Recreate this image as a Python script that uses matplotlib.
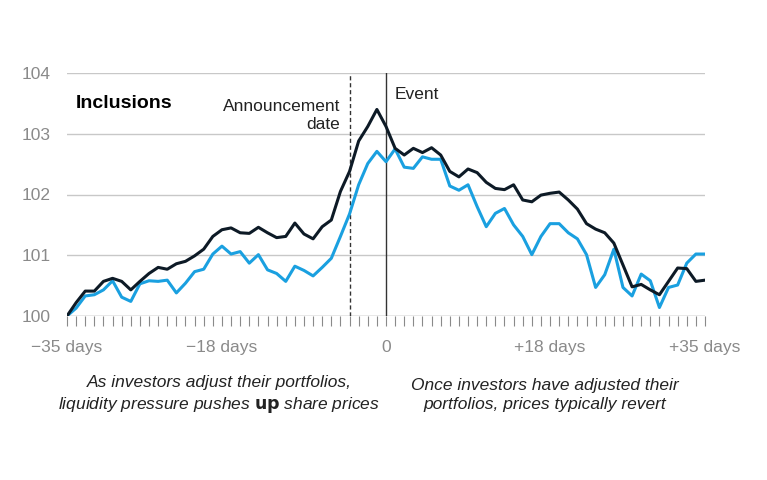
import numpy as np
import matplotlib
matplotlib.use("Agg")
import matplotlib.pyplot as plt

days = np.arange(-35, 36)
index_black = [100, 100.22, 100.41, 100.41, 100.57, 100.62, 100.57, 100.43, 100.57, 100.70,
               100.80, 100.77, 100.86, 100.90, 100.99, 101.10, 101.31, 101.42, 101.45, 101.37,
               101.36, 101.46, 101.37, 101.29, 101.31, 101.53, 101.35, 101.27, 101.47, 101.58,
               102.05, 102.38, 102.88, 103.12, 103.40, 103.12, 102.76, 102.65, 102.76, 102.69,
               102.77, 102.65, 102.38, 102.29, 102.42, 102.36, 102.20, 102.10, 102.08, 102.16,
               101.91, 101.88, 101.99, 102.02, 102.04, 101.91, 101.76, 101.52, 101.43, 101.37,
               101.20, 100.84, 100.48, 100.52, 100.43, 100.35, 100.57, 100.79, 100.78, 100.57,
               100.59]
index_blue = [100, 100.13, 100.33, 100.35, 100.43, 100.58, 100.31, 100.24, 100.53, 100.58,
              100.57, 100.59, 100.38, 100.54, 100.73, 100.77, 101.02, 101.15, 101.02, 101.06,
              100.87, 101.01, 100.76, 100.70, 100.57, 100.82, 100.75, 100.66, 100.80, 100.95,
              101.31, 101.68, 102.16, 102.51, 102.71, 102.54, 102.75, 102.45, 102.43, 102.62,
              102.58, 102.58, 102.14, 102.07, 102.16, 101.80, 101.47, 101.69, 101.77, 101.50,
              101.31, 101.01, 101.31, 101.52, 101.52, 101.37, 101.27, 101.01, 100.47, 100.68,
              101.10, 100.47, 100.33, 100.69, 100.58, 100.14, 100.47, 100.51, 100.87, 101.02,
              101.02]
y_ticks = [100, 101, 102, 103, 104]
x_ticks = [-35, -18, 0, 18, 35]
x_labels = ["\u221235 days", "\u221218 days", "0", "+18 days", "+35 days"]

plt.rcParams["font.family"] = ["Liberation Sans", "DejaVu Sans"]
grey = "#8a8a8a"

fig = plt.figure(figsize=(7.67, 4.8), dpi=100)
ax = fig.add_axes([67 / 767, 1 - 316 / 480, (705 - 67) / 767, (316 - 73) / 480])

for y in y_ticks[1:]:
    ax.axhline(y, color="#c8c8c8", lw=1, zorder=0)
ax.axhline(100, color=grey, lw=1, zorder=0)

ax.plot(days, index_blue, color="#1aa0e0", lw=2.2, zorder=2)
ax.plot(days, index_black, color="#0d1a26", lw=2.2, zorder=3)

ax.axvline(-4, color="#333333", lw=1, ls=(0, (3, 2)), zorder=1)
ax.axvline(0, color="#333333", lw=1, zorder=1)

ax.set_xlim(-35, 35)
ax.set_ylim(100, 104)
for s in ax.spines.values():
    s.set_visible(False)
ax.set_yticks(y_ticks)
ax.tick_params(axis="y", length=0, labelsize=12.5, labelcolor=grey, pad=12)
ax.set_xticks(days, minor=True)
ax.set_xticks(x_ticks)
ax.set_xticklabels(x_labels)
ax.tick_params(axis="x", which="both", direction="out", length=7, color=grey, width=0.8)
ax.tick_params(axis="x", which="major", labelsize=12.5, labelcolor=grey, pad=10)

ax.text(-34, 103.5, "Inclusions", fontsize=14, fontweight="bold", va="center")
ax.text(-5, 103.3, "Announcement\ndate", fontsize=12.5, ha="right", va="center",
        linespacing=1.3, color="#222222")
ax.text(1, 103.65, "Event", fontsize=12.5, ha="left", va="center", color="#222222")

fig.text(219 / 767, 1 - 395 / 480,
         "As investors adjust their portfolios,\nliquidity pressure pushes $\\mathbf{up}$ share prices",
         ha="center", va="center", fontsize=12.5, style="italic", linespacing=1.3, color="#222222")
fig.text(545 / 767, 1 - 395 / 480,
         "Once investors have adjusted their\nportfolios, prices typically revert",
         ha="center", va="center", fontsize=12.5, style="italic", linespacing=1.3, color="#222222")

fig.savefig("out.png", dpi=100)
